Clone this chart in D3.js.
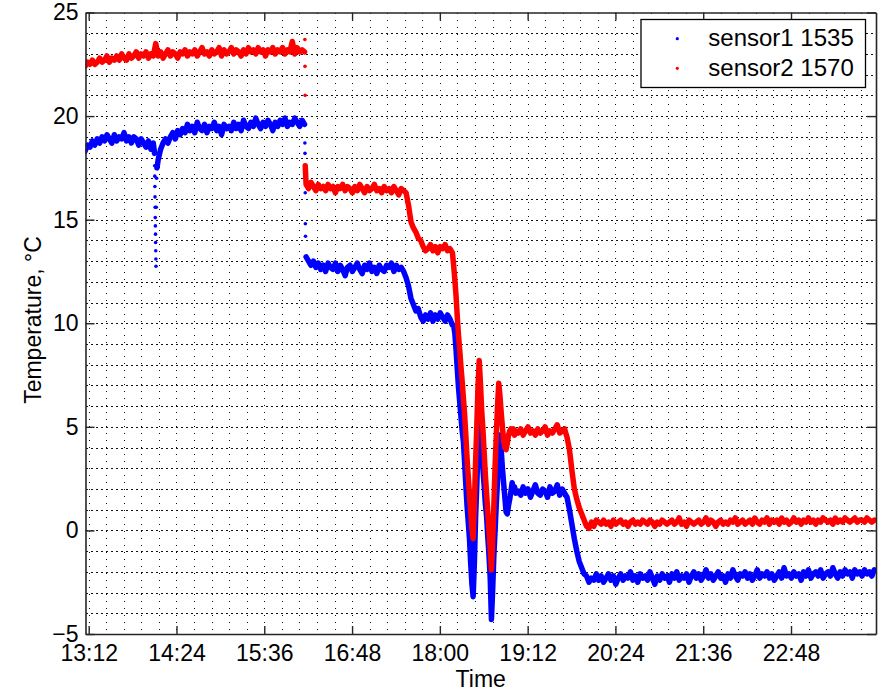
<!DOCTYPE html>
<html>
<head>
<meta charset="utf-8">
<script src="https://cdn.jsdelivr.net/npm/d3@7"></script>
<style>
  html, body { margin: 0; padding: 0; background: #fff; }
  text { font-family: "Liberation Sans", Arial, sans-serif; fill: #000; }
</style>
</head>
<body>
<svg id="chart" width="879" height="691"></svg>
<script>
// Time axis is measured in minutes after the first tick
const startClock = "13:12";
const timeTicks = ["13:12", "14:24", "15:36", "16:48", "18:00", "19:12", "20:24", "21:36", "22:48"];
const tempTicks = [-5, 0, 5, 10, 15, 20, 25];
const seriesNames = ["sensor1 1535", "sensor2 1570"];

// runs of readings: [first minute, minutes between readings, readings in °C]
const sensor1Runs = [
  [-3, 2, [18.3, 18.6, 18.5, 18.8, 18.6, 18.9, 18.7, 19.0, 18.8, 19.1, 18.9, 18.7, 19.1, 18.8, 19.0,
           18.9, 19.2, 18.8, 19.0, 18.7, 19.0, 18.9, 18.6, 18.9, 18.7, 18.5, 18.8, 18.4, 18.7]],
  [54, 0.1, [18.2, 17.6, 17.1, 16.6, 16.1, 15.6, 15.1, 14.7, 14.3, 13.9, 13.5, 13.1, 12.75]],
  [55.4, 0.3, [15.6, 17.0, 17.5]],
  [57, 2, [17.9, 18.4, 18.7, 18.9, 18.7, 19.0, 19.2, 18.9, 19.3, 19.1,
           19.4, 19.2, 19.6, 19.3, 19.5, 19.2, 19.7, 19.4, 19.3, 19.6,
           19.2, 19.5, 19.4, 19.7, 19.3, 19.5, 19.1, 19.6, 19.4, 19.5,
           19.3, 19.7, 19.4, 19.6, 19.3, 19.8, 19.5, 19.4, 19.7, 19.5,
           19.9, 19.6, 19.4, 19.7, 19.5, 19.8, 19.6, 19.3, 19.7, 19.5,
           19.8, 19.6, 19.9, 19.5, 19.7, 19.6, 19.9, 19.7, 19.5, 19.8,
           19.6]],
  [177.3, 0.1, [18.7, 18.2, 17.3, 16.3, 14.8, 14.2]],
  [178.3, 2, [13.2, 13.0, 12.8, 13.0, 12.7, 12.9, 12.6, 12.8, 12.5, 12.9,
              12.7, 12.6, 12.9, 12.5, 12.8, 12.6, 12.3, 12.7, 12.8, 12.5,
              12.7, 12.9, 12.6, 12.4, 12.8, 12.6, 12.9, 12.5, 12.7, 12.4,
              12.8, 12.6, 12.5, 12.8, 12.7, 12.9, 12.5, 12.8, 12.6, 12.7,
              12.5, 12.2, 11.8, 11.2, 10.9, 10.6, 10.7, 10.3, 10.1, 10.4,
              10.2, 10.5, 10.1, 10.4, 10.2, 10.5, 10.3, 10.1, 10.4, 10.2,
              9.9]],
  [299.3, 1, [9.9, 9.5, 8.7, 7.8, 6.9, 6.2, 5.5, 4.8, 4.3, 3.3,
              2.2, 1.2, 0.4, -0.4, -1.6, -2.6, -3.2, -1.6, 0.6, 2.2,
              4.0, 5.3, 4.9, 3.9, 3.0, 2.2, 1.3, 0.7, -0.3, -1.2,
              -2.3, -4.3, -2.9, -1.2, 0.0, 1.3, 2.4, 3.6, 4.6, 3.9,
              3.0, 2.3, 1.6, 0.9, 0.8, 1.2, 1.5, 1.9, 2.3, 1.9,
              2.1, 1.8]],
  [352.3, 2, [1.9, 1.7, 2.1, 1.8, 2.0, 1.6, 1.9, 2.2, 1.8, 1.7,
              2.0, 1.9, 1.6, 2.1, 1.8, 1.9, 2.2, 1.7, 2.0, 1.8,
              1.6, 1.0, 0.3, -0.4, -1.0, -1.5, -1.8, -2.1, -2.2, -2.5, -2.3, -2.4,
              -2.1, -2.4, -2.2, -2.5, -2.3, -2.1, -2.4, -2.2, -2.6, -2.3,
              -2.1, -2.4, -2.2, -2.3, -2.0, -2.4, -2.2, -2.5, -2.1, -2.3,
              -2.2, -2.4, -2.0, -2.3, -2.6, -2.2, -2.4, -2.1, -2.3, -2.2,
              -2.5, -2.1, -2.3, -2.0, -2.4, -2.2, -2.3, -2.1, -2.5, -2.2,
              -2.0, -2.3, -2.1, -2.4, -2.2, -1.9, -2.3, -2.1, -2.4, -2.2,
              -2.0, -2.3, -2.2, -2.5, -2.1, -2.3, -1.9, -2.2, -2.4, -2.1,
              -2.2, -2.0, -2.3, -2.1, -2.4, -2.2, -1.9, -2.3, -2.1, -2.2,
              -2.0, -2.3, -2.1, -2.4, -2.2, -2.0, -2.3, -1.8, -2.2, -2.1,
              -2.3, -2.0, -2.2, -2.1, -2.4, -2.0, -2.2, -1.9, -2.3, -2.1,
              -2.0, -2.2, -1.9, -2.3, -2.1, -2.0, -2.2, -1.8, -2.1, -2.3,
              -2.0, -2.2, -1.9, -2.1, -2.0, -2.3, -1.9, -2.1, -2.0, -2.2,
              -1.9, -2.1, -2.0, -2.2, -1.9]]
];

const sensor2Runs = [
  [-3, 2, [22.4, 22.6, 22.5, 22.7, 22.5, 22.6, 22.8, 22.6, 22.7, 22.9,
           22.6, 22.8, 22.7, 22.9, 22.7, 23.0, 22.8, 22.7, 23.0, 22.8,
           22.9, 23.1, 22.8, 23.0, 22.9, 23.1, 22.8, 23.0, 22.9, 23.5,
           22.9, 23.1, 22.8, 23.0, 23.2, 22.9, 23.1, 23.0, 22.8, 23.1,
           23.0, 23.2, 22.9, 23.1, 23.0, 23.2, 22.9, 23.1, 23.3, 23.0,
           23.1, 22.9, 23.2, 23.0, 23.1, 23.3, 22.9, 23.2, 23.0, 23.1,
           23.3, 23.0, 23.2, 23.1, 22.9, 23.2, 23.0, 23.3, 23.1, 23.2,
           23.0, 23.3, 23.1, 23.2, 22.9, 23.2, 23.1, 23.3, 23.0, 23.2,
           23.1, 23.3, 23.0, 23.2, 23.1, 23.6, 23.0, 23.3, 23.1, 23.2,
           23.1]],
  [177.3, 0.1, [23.7, 22.4, 21.0, 17.6]],
  [178.3, 2, [16.7, 16.5, 16.8, 16.6, 16.4, 16.7, 16.5, 16.6, 16.4, 16.7,
              16.5, 16.6, 16.3, 16.6, 16.5, 16.7, 16.4, 16.6, 16.5, 16.3,
              16.6, 16.4, 16.7, 16.5, 16.3, 16.6, 16.4, 16.5, 16.7, 16.4,
              16.5, 16.3, 16.6, 16.4, 16.5, 16.3, 16.6, 16.4, 16.2, 16.5,
              16.4, 16.3, 15.7, 14.9, 14.6, 14.4, 14.1, 14.0, 13.7, 13.5,
              13.6, 13.8, 13.5, 13.7, 13.4, 13.7, 13.6, 13.8, 13.5, 13.6,
              13.4]],
  [299.3, 1, [12.8, 12.1, 11.3, 10.3, 9.4, 8.7, 7.9, 7.2, 6.4, 5.6,
              4.6, 3.5, 2.6, 1.7, 0.9, 0.1, -0.4, 1.2, 3.3, 5.0,
              7.0, 8.2, 7.1, 5.8, 4.9, 3.8, 2.7, 1.8, 0.9, 0.0,
              -0.9, -1.9, -0.6, 1.2, 3.1, 4.6, 6.0, 7.1, 6.5, 5.7,
              5.0, 4.3, 4.0, 3.9, 4.2, 4.6, 4.8, 4.9, 4.7, 4.9,
              4.6, 4.8]],
  [352.3, 2, [4.7, 4.9, 4.6, 4.8, 5.0, 4.7, 4.8, 4.6, 4.9, 4.7,
              4.8, 5.0, 4.6, 4.8, 4.7, 4.9, 5.1, 4.7, 4.8, 4.9,
              4.5, 3.9, 2.9, 2.0, 1.5, 1.1, 0.8, 0.5, 0.2, 0.1, 0.4, 0.2, 0.5,
              0.4, 0.3, 0.5, 0.3, 0.4, 0.2, 0.5, 0.3, 0.4, 0.5,
              0.3, 0.4, 0.2, 0.4, 0.5, 0.3, 0.4, 0.3, 0.5, 0.4,
              0.3, 0.5, 0.4, 0.2, 0.4, 0.3, 0.5, 0.4, 0.3, 0.4,
              0.5, 0.3, 0.4, 0.6, 0.3, 0.4, 0.2, 0.5, 0.4, 0.3,
              0.4, 0.5, 0.3, 0.4, 0.6, 0.3, 0.5, 0.4, 0.2, 0.4,
              0.5, 0.3, 0.4, 0.3, 0.5, 0.4, 0.6, 0.3, 0.4, 0.5,
              0.3, 0.4, 0.5, 0.3, 0.6, 0.4, 0.3, 0.5, 0.4, 0.6,
              0.3, 0.5, 0.4, 0.5, 0.3, 0.6, 0.4, 0.5, 0.3, 0.4,
              0.6, 0.4, 0.5, 0.3, 0.5, 0.4, 0.6, 0.4, 0.5, 0.3,
              0.5, 0.4, 0.6, 0.5, 0.4, 0.5, 0.3, 0.6, 0.4, 0.5,
              0.4, 0.6, 0.5, 0.4, 0.5, 0.6, 0.4, 0.5, 0.5, 0.4,
              0.6, 0.5, 0.4, 0.5]]
];

const colors = ["#0000ff", "#ff0000"];

const svg = d3.select("#chart");
const plotL = 85.5, plotR = 876, plotT = 12.5, plotB = 634;

const parseClock = d3.timeParse("%H:%M");
const base = parseClock(startClock);
const at = m => new Date(base.getTime() + m * 60000);

const x = d3.scaleTime().domain([at(-2.62), at(645.7)]).range([plotL, plotR]);
const y = d3.scaleLinear().domain([-5, 25]).range([plotB, plotT]);

// expand the runs into single readings
function readings(runs) {
  const pts = [];
  runs.forEach(([start, step, vals]) => {
    vals.forEach((v, i) => pts.push({ t: start + i * step, v: v }));
  });
  return pts;
}

// readings logged in quick bursts stay separate dots, regular ones get joined
function pieces(pts) {
  const segs = [];
  let cur = [pts[0]];
  for (let i = 1; i < pts.length; i++) {
    if (pts[i].t - pts[i - 1].t > 0.55) cur.push(pts[i]);
    else { segs.push(cur); cur = [pts[i]]; }
  }
  segs.push(cur);
  return segs.filter(s => s.length > 1);
}

svg.append("clipPath").attr("id", "plot-clip")
  .append("rect")
  .attr("x", plotL).attr("y", plotT)
  .attr("width", plotR - plotL).attr("height", plotB - plotT);

// grid: one line per degree, five per time tick
const grid = svg.append("g").attr("class", "grid").attr("shape-rendering", "crispEdges");
grid.selectAll(".hgrid")
  .data(d3.range(-4, 25))
  .enter().append("line")
  .attr("x1", plotL).attr("x2", plotR)
  .attr("y1", d => Math.round(y(d)) + 0.5).attr("y2", d => Math.round(y(d)) + 0.5)
  .style("stroke", "#111")
  .style("stroke-width", 1)
  .style("stroke-dasharray", "2,3");

const minorMinutes = 72 / 5;
grid.selectAll(".vgrid")
  .data(d3.range(0, 45).map(k => at(k * minorMinutes)))
  .enter().append("line")
  .attr("x1", d => Math.round(x(d)) + 0.5).attr("x2", d => Math.round(x(d)) + 0.5)
  .attr("y1", plotT).attr("y2", plotB)
  .style("stroke", "#111")
  .style("stroke-width", 1)
  .style("stroke-dasharray", "1,6");

// data
const plot = svg.append("g").attr("clip-path", "url(#plot-clip)");
const line = d3.line().x(d => x(at(d.t))).y(d => y(d.v));

[sensor1Runs, sensor2Runs].forEach((runs, si) => {
  const pts = readings(runs);
  const g = plot.append("g").attr("class", "series");
  g.selectAll("path")
    .data(pieces(pts))
    .enter().append("path")
    .attr("d", line)
    .style("fill", "none")
    .style("stroke", colors[si])
    .style("stroke-width", 5.5)
    .style("stroke-linejoin", "round")
    .style("stroke-linecap", "round");
  g.selectAll("circle")
    .data(pts)
    .enter().append("circle")
    .attr("cx", d => x(at(d.t)))
    .attr("cy", d => y(d.v))
    .attr("r", 1.8)
    .style("fill", colors[si]);
});

// axes on all four sides, ticks pointing inwards
const tickDates = timeTicks.map(s => parseClock(s));

const axisStyle = sel => {
  sel.select(".domain").style("stroke", "#262626").style("stroke-width", 1.6);
  sel.selectAll(".tick line").style("stroke", "#262626").style("stroke-width", 1.4);
  sel.selectAll("text").style("font-size", "23px").style("font-family", "'Liberation Sans', Arial, sans-serif").attr("fill", "#000");
};

svg.append("g")
  .attr("transform", `translate(0,${plotB})`)
  .call(d3.axisBottom(x).tickValues(tickDates).tickFormat(d3.timeFormat("%H:%M"))
    .tickSizeInner(-8).tickSizeOuter(0).tickPadding(11))
  .call(axisStyle);

svg.append("g")
  .attr("transform", `translate(0,${plotT})`)
  .call(d3.axisTop(x).tickValues(tickDates).tickFormat("")
    .tickSizeInner(-8).tickSizeOuter(0))
  .call(axisStyle);

svg.append("g")
  .attr("transform", `translate(${plotL},0)`)
  .call(d3.axisLeft(y).tickValues(tempTicks).tickSizeInner(-9).tickSizeOuter(0).tickPadding(7))
  .call(axisStyle);

svg.append("g")
  .attr("transform", `translate(${plotR},0)`)
  .call(d3.axisRight(y).tickValues(tempTicks).tickFormat("").tickSizeInner(-9).tickSizeOuter(0))
  .call(axisStyle);

// axis titles
svg.append("text")
  .attr("x", (plotL + plotR) / 2)
  .attr("y", 686.5)
  .style("font-size", "23px")
  .style("text-anchor", "middle")
  .text("Time");

svg.append("text")
  .attr("transform", "translate(40.5,320) rotate(-90)")
  .style("font-size", "23px")
  .style("text-anchor", "middle")
  .text("Temperature, °C");

// legend
const legend = svg.append("g").attr("class", "legend");
legend.append("rect")
  .attr("x", 641).attr("y", 19.5)
  .attr("width", 224.5).attr("height", 68)
  .style("fill", "#fff")
  .style("stroke", "#000")
  .style("stroke-width", 1.3);

const items = legend.selectAll(".legend-item")
  .data(seriesNames)
  .enter().append("g")
  .attr("class", "legend-item")
  .attr("transform", (d, i) => `translate(0,${38.7 + i * 29.6})`);

items.append("circle")
  .attr("cx", 677.3).attr("cy", 0).attr("r", 1.6)
  .style("fill", (d, i) => colors[i]);

items.append("text")
  .attr("x", 708.3).attr("y", 7.2)
  .style("font-size", "24px")
  .text(d => d);
</script>
</body>
</html>
